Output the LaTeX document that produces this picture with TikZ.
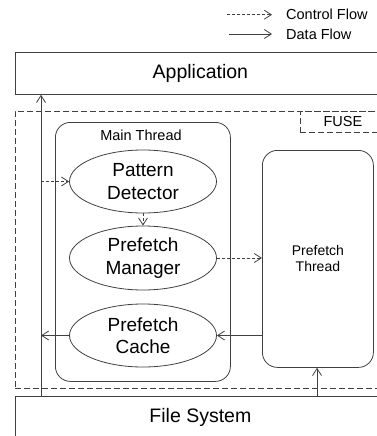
\documentclass[tikz,border=0pt]{standalone}
\usepackage{fontspec}
\setmainfont{Liberation Sans}
\usetikzlibrary{shapes.geometric,arrows.meta}
\definecolor{ln}{HTML}{404040}
\tikzset{
  every picture/.style={x=1pt,y=-1pt},
  base/.style={draw=ln,line width=0.8pt},
  bigbox/.style={base,rectangle,anchor=north west,minimum width=370pt,inner sep=0pt,font=\fontsize{19.5}{22}\selectfont},
  fusebox/.style={draw=ln,line width=0.8pt,dash pattern=on 6pt off 3pt,rectangle,anchor=north west,inner sep=0pt},
  thread/.style={base,rectangle,rounded corners=15pt,anchor=north west,inner sep=0pt},
  ell/.style={base,ellipse,minimum width=147pt,minimum height=63pt,inner sep=0pt,align=center,font=\fontsize{19}{22.5}\selectfont},
  small/.style={font=\fontsize{14.5}{16}\selectfont,inner sep=0pt},
  tip/.style={-{Straight Barb[length=7pt,width=9pt]}},
  dataflow/.style={draw=ln,line width=0.8pt,tip},
  ctrlflow/.style={draw=ln,line width=0.8pt,dash pattern=on 3pt off 2pt,tip},
}
\begin{document}
\begin{tikzpicture}
\useasboundingbox (0,0) rectangle (377,436);
% legend
\coordinate (c1s) at (227,14.7);
\coordinate (c1e) at (272,14.7);
\coordinate (d1s) at (229,34);
\coordinate (d1e) at (272,34);
\node[small,anchor=west] (cf) at (286,14.7) {Control Flow};
\node[small,anchor=west] (df) at (286,34) {Data Flow};
\draw[ctrlflow] (c1s) -- (c1e);
\draw[dataflow] (d1s) -- (d1e);
% big boxes
\node[bigbox,minimum height=42pt] (app) at (15,52) {Application};
\node[bigbox,minimum height=42pt] (fs) at (15,396) {File System};
\node[fusebox,minimum width=370pt,minimum height=277pt] (fuse) at (15,111) {};
\node[fusebox,minimum width=85pt,minimum height=21pt,small] (fuselbl) at (300,111) {FUSE};
% threads
\node[thread,minimum width=175pt,minimum height=259pt] (main) at (55,122) {};
\node[small] (mainlbl) at (141,135) {Main Thread};
\node[thread,minimum width=111pt,minimum height=217pt,align=center,font=\fontsize{14}{16}\selectfont] (pt) at (262,150) {Prefetch\\Thread};
% ellipses
\node[ell] (pd) at (143,181.5) {Pattern\\Detector};
\node[ell,minimum height=64pt] (pm) at (143,258) {Prefetch\\Manager};
\node[ell] (pc) at (143,335.5) {Prefetch\\Cache};
% connectors
\coordinate (vx) at (41,0);
\coordinate (ptx) at (317,0);
\draw[dataflow] (fs.north -| vx) -- (app.south -| vx);
\draw[ctrlflow] (pd.west -| vx) -- (pd.west);
\draw[ctrlflow] (pd.south) -- (pm.north);
\draw[ctrlflow] (pm.east) -- (pm.east -| pt.west);
\draw[dataflow] (pc.east -| pt.west) -- (pc.east);
\draw[dataflow] (pc.west) -- (pc.west -| vx);
\draw[dataflow] (fs.north -| ptx) -- (pt.south -| ptx);
\end{tikzpicture}
\end{document}
